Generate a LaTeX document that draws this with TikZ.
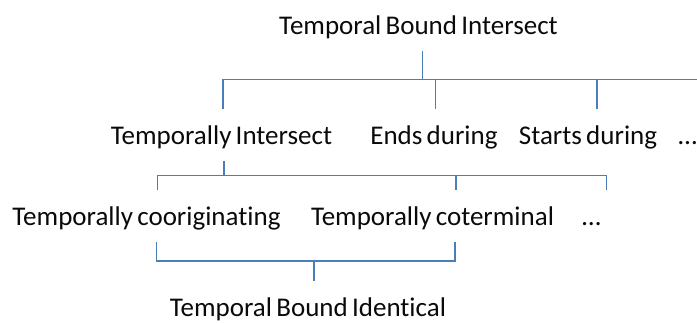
\documentclass[tikz,border=0pt]{standalone}
\usepackage{fontspec}
\setmainfont{Carlito}[Ligatures=NoCommon, WordSpace=0.7]
\definecolor{linkblue}{RGB}{74,126,187}
\definecolor{labelink}{RGB}{10,10,10}
\begin{document}
\begin{tikzpicture}[x=1pt,y=-1pt,
  label/.style={anchor=base, inner sep=0pt, outer xsep=0pt, outer ysep=10pt,
    text height=26pt, text depth=6pt, text=labelink,
    font=\fontsize{27}{31}\selectfont},
  link/.style={draw=linkblue, line width=1.2pt}]
\useasboundingbox (0,0) rectangle (697,323);

% labels, one row per level
\node[label] (tbi)  at (418.5,35)  {Temporal Bound Intersect};
\node[label] (ti)   at (221.5,145) {Temporally Intersect};
\node[label] (ed)   at (434,145)   {Ends during};
\node[label] (sd)   at (588,145)   {Starts during};
\node[label, anchor=base east] (dots1) at (697,145) {…};
\node[label] (tc)   at (146.5,226) {Temporally cooriginating};
\node[label] (tct)  at (432.5,226) {Temporally coterminal};
\node[label] (dots2) at (591.5,226) {…};
\node[label] (tbid) at (308,316.7) {Temporal Bound Identical};

% junction points of the brackets
\coordinate (j1) at (422.7,79.5);
\coordinate (busend) at (697,79.5);
\coordinate (j2) at (224,175.5);
\coordinate (j3) at (314,261);

% first level
\draw[link] ([xshift=4.2pt]tbi.south) -- (j1);
\draw[link] ([xshift=1.5pt]ti.north) |- (j1) -- (busend);
\draw[link] ([xshift=1.7pt]ed.north) |- (j1);
\draw[link] ([xshift=9pt]sd.north) |- (j1);

% second level
\draw[link] ([xshift=2.5pt]ti.south) -- (j2);
\draw[link] ([xshift=11pt]tc.north) |- (j2) -| ([xshift=15pt]dots2.north);
\draw[link] ([xshift=23.5pt]tct.north) |- (j2);

% common refinement
\draw[link] ([xshift=10pt]tc.south) |- (j3) -| ([xshift=22.5pt]tct.south);
\draw[link] (j3) -- ([xshift=6pt]tbid.north);
\end{tikzpicture}
\end{document}
